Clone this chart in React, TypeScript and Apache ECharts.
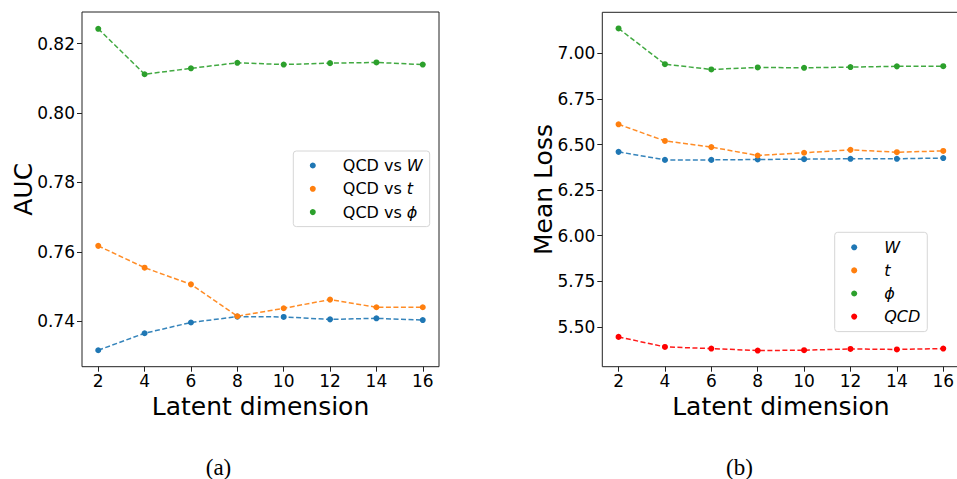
import React, { useEffect, useRef } from "react";
import * as echarts from "echarts";

const latentDims = [2, 4, 6, 8, 10, 12, 14, 16];

// Left panel (a): AUC
const aucW = [0.7316, 0.7365, 0.7396, 0.7413, 0.7412, 0.7405, 0.7408, 0.7403];
const aucT = [0.7617, 0.7554, 0.7506, 0.7414, 0.7437, 0.7462, 0.7440, 0.7440];
const aucPhi = [0.8243, 0.8112, 0.8129, 0.8145, 0.8140, 0.8144, 0.8146, 0.8140];

// Right panel (b): Mean loss
const lossW = [6.460, 6.416, 6.416, 6.418, 6.420, 6.422, 6.422, 6.426];
const lossT = [6.611, 6.520, 6.486, 6.440, 6.455, 6.471, 6.458, 6.465];
const lossPhi = [7.137, 6.941, 6.912, 6.923, 6.921, 6.925, 6.929, 6.930];
const lossQCD = [5.445, 5.390, 5.381, 5.370, 5.372, 5.379, 5.376, 5.381];

const xTicks = [2, 4, 6, 8, 10, 12, 14, 16];
const aucTicks = [0.74, 0.76, 0.78, 0.8, 0.82];
const lossTicks = [5.5, 5.75, 6.0, 6.25, 6.5, 6.75, 7.0];

const namesA = ["QCD vs W", "QCD vs t", "QCD vs ϕ"];
const namesB = ["W", "t", "ϕ", "QCD"];

const BLUE = "#1f77b4";
const ORANGE = "#ff7f0e";
const GREEN = "#2ca02c";
const RED = "#ff0000";

const FONT = "DejaVu Sans";

function pairs(ys: number[]) {
  return latentDims.map((x, i) => [x, ys[i]]);
}

function mkSeries(name: string, ys: number[], color: string, idx: number) {
  return {
    type: "line",
    name,
    xAxisIndex: idx,
    yAxisIndex: idx,
    data: pairs(ys),
    symbol: "circle",
    symbolSize: 6,
    showSymbol: true,
    itemStyle: { color },
    lineStyle: { color, width: 1.5, type: [5, 2.5], opacity: 0.9 },
    emphasis: { disabled: true },
  };
}

function xAxis(gridIndex: number) {
  return {
    type: "value",
    gridIndex,
    min: 1.3,
    max: 16.7,
    name: "Latent dimension",
    nameLocation: "middle",
    nameGap: 27.5,
    nameMoveOverlap: false,
    nameTextStyle: { fontFamily: FONT, fontSize: 25, lineHeight: 25, color: "#000" },
    axisLine: { show: false },
    axisTick: { show: true, inside: false, length: 5, customValues: xTicks, lineStyle: { color: "#222", width: 1 } },
    axisLabel: { customValues: xTicks, margin: 6, fontFamily: FONT, fontSize: 17, lineHeight: 17, color: "#000" },
    splitLine: { show: false },
  };
}

function yAxis(gridIndex: number, min: number, max: number, ticks: number[], name: string) {
  return {
    type: "value",
    gridIndex,
    min,
    max,
    name,
    nameLocation: "middle",
    nameGap: 46,
    nameMoveOverlap: false,
    nameRotate: 90,
    nameTextStyle: { fontFamily: FONT, fontSize: 25, color: "#000" },
    axisLine: { show: false },
    axisTick: { show: true, inside: false, length: 5, customValues: ticks, lineStyle: { color: "#222", width: 1 } },
    axisLabel: {
      customValues: ticks,
      margin: 7,
      fontFamily: FONT,
      fontSize: 17,
      color: "#000",
      formatter: (v: number) => v.toFixed(2),
    },
    splitLine: { show: false },
  };
}

const richStyle = {
  i: { fontStyle: "italic", fontFamily: FONT, fontSize: 16, color: "#000", lineHeight: 18 },
};

function legend(names: string[], left: number, top: number, padV: number, gap: number, fmt: (n: string) => string) {
  return {
    data: names,
    orient: "vertical",
    left,
    top,
    icon: "circle",
    itemWidth: 12,
    itemHeight: 6,
    itemGap: gap,
    padding: [padV, 7, padV, 16.5],
    backgroundColor: "rgba(255,255,255,0.8)",
    borderColor: "#d6d6d6",
    borderWidth: 1,
    borderRadius: 3,
    selectedMode: false,
    formatter: fmt,
    textStyle: {
      fontFamily: FONT,
      fontSize: 16,
      color: "#000",
      lineHeight: 18,
      padding: [0, 0, 0, 19],
      rich: richStyle,
    },
  };
}

export default function App() {
  const ref = useRef<HTMLDivElement>(null);
  useEffect(() => {
    if (!ref.current) return;
    const chart = echarts.init(ref.current, undefined, { renderer: "svg" });
    chart.setOption({
      animation: false,
      backgroundColor: "#fff",
      grid: [
        { left: 82, top: 12, width: 357, height: 354.7, show: true, borderColor: "#222", borderWidth: 1, backgroundColor: "transparent" },
        { left: 602.3, top: 12.3, width: 357.2, height: 354.4, show: true, borderColor: "#222", borderWidth: 1, backgroundColor: "transparent" },
      ],
      xAxis: [xAxis(0), xAxis(1)],
      yAxis: [
        yAxis(0, 0.72685, 0.82915, aucTicks, "AUC"),
        yAxis(1, 5.2815, 7.2255, lossTicks, "Mean Loss"),
      ],
      legend: [
        legend(namesA, 293.3, 151, 5.5, 5.3, (n: string) => {
          const parts = n.split(" vs ");
          return parts[0] + " vs {i|" + parts[1] + "}";
        }),
        legend(namesB, 834.7, 232.3, 6, 5.1, (n: string) => "{i|" + n + "}"),
      ],
      series: [
        mkSeries(namesA[0], aucW, BLUE, 0),
        mkSeries(namesA[1], aucT, ORANGE, 0),
        mkSeries(namesA[2], aucPhi, GREEN, 0),
        mkSeries(namesB[0], lossW, BLUE, 1),
        mkSeries(namesB[1], lossT, ORANGE, 1),
        mkSeries(namesB[2], lossPhi, GREEN, 1),
        mkSeries(namesB[3], lossQCD, RED, 1),
      ],
      graphic: [
        {
          type: "text",
          x: 218.5,
          y: 467,
          style: { text: "(a)", fontFamily: "Liberation Serif", fontSize: 23, fill: "#000", align: "center", verticalAlign: "middle" },
        },
        {
          type: "text",
          x: 739.5,
          y: 467,
          style: { text: "(b)", fontFamily: "Liberation Serif", fontSize: 23, fill: "#000", align: "center", verticalAlign: "middle" },
        },
      ],
    });
    return () => chart.dispose();
  }, []);
  return (
    <div style={{ position: "fixed", left: 0, top: 0, width: 957, height: 479, overflow: "hidden", background: "#fff" }}>
      <div ref={ref} style={{ width: 975, height: 479 }} />
    </div>
  );
}
